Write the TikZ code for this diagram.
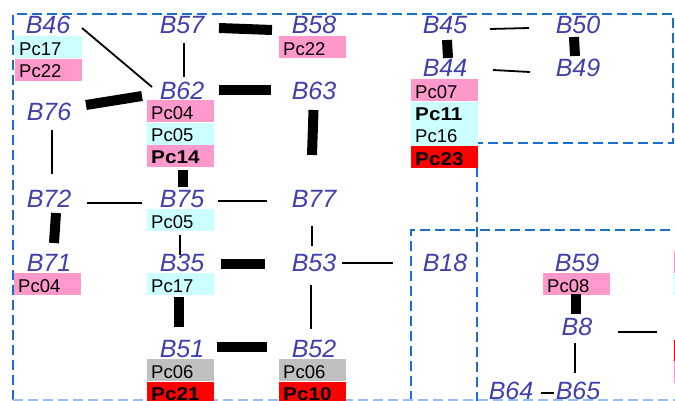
\documentclass[tikz,border=0pt]{standalone}
\usepackage{fontspec}
\setmainfont{Liberation Sans}
\newfontfamily\pcbf{Liberation Sans}[FakeStretch=1.12]
\usetikzlibrary{calc,positioning}
\definecolor{lblblue}{RGB}{64,64,172}
\definecolor{dashblue}{RGB}{25,110,210}
\definecolor{lightdash}{RGB}{150,190,240}
\definecolor{pcpink}{RGB}{255,153,204}
\definecolor{pccyan}{RGB}{204,255,255}
\definecolor{pcred}{RGB}{255,0,0}
\definecolor{pcgray}{RGB}{192,192,192}
\tikzset{
  lbl/.style={font=\fontsize{25}{25}\selectfont\itshape, text=lblblue, inner sep=0pt},
  pc/.style={font=\fontsize{18.5}{18.5}\selectfont, text=black, inner xsep=4pt, inner ysep=2pt,
    text width=59pt, align=left, text height=17pt, text depth=1pt, anchor=north west},
  pcb/.style={pc, font=\fontsize{18.5}{18.5}\selectfont\pcbf\bfseries},
  pinkbox/.style={fill=pcpink},
  cyanbox/.style={fill=pccyan},
  redbox/.style={fill=pcred},
  graybox/.style={fill=pcgray},
  thinline/.style={draw=black, line width=1.8pt},
  barline/.style={draw=black, line width=10pt},
  zone/.style={draw=dashblue, line width=2.8pt, dash pattern=on 10pt off 5pt},
  zonefaint/.style={draw=lightdash, line width=1.8pt, dash pattern=on 10pt off 5pt}
}
\begin{document}
\begin{tikzpicture}[x=1pt,y=-1pt]
\useasboundingbox (0,0) rectangle (675,401);
\fill[white] (0,0) rectangle (675,401);

% zones
\draw[zone] (13,400) -- (13,14) -- (673,14) -- (673,143) -- (477,143) -- (477,401);
\draw[zone] (411,401) -- (411,230) -- (676,230);
\draw[zonefaint] (13,400) -- (675,400);

% labels
\node[lbl] (B46) at (48,25) {B46};
\node[lbl] (B57) at (182,25) {B57};
\node[lbl] (B58) at (314,25) {B58};
\node[lbl] (B45) at (445,25) {B45};
\node[lbl] (B50) at (578,25) {B50};
\node[lbl] (B62) at (182,91) {B62};
\node[lbl] (B63) at (314,91) {B63};
\node[lbl] (B76) at (49,112) {B76};
\node[lbl] (B44) at (445,68) {B44};
\node[lbl] (B49) at (578,68) {B49};
\node[lbl] (B72) at (49,199) {B72};
\node[lbl] (B75) at (182,199) {B75};
\node[lbl] (B77) at (314,199) {B77};
\node[lbl] (B71) at (49,263) {B71};
\node[lbl] (B35) at (182,263) {B35};
\node[lbl] (B53) at (314,263) {B53};
\node[lbl] (B18) at (445,263) {B18};
\node[lbl] (B59) at (577,263) {B59};
\node[lbl] (B51) at (182,349) {B51};
\node[lbl] (B52) at (314,349) {B52};
\node[lbl] (B8) at (577,327) {B8};
\node[lbl] (B64) at (511,391) {B64};
\node[lbl] (B65) at (578,391) {B65};

% Pc boxes
\node[pc, cyanbox] (B46a) at (15,36) {Pc17};
\node[pc, pinkbox] (B46b) at (B46a.south west) {Pc22};

\node[pc, pinkbox] (B62a) at (147,100) {Pc04};
\node[pc, cyanbox] (B62b) at (B62a.south west) {Pc05};
\node[pcb, pinkbox] (B62c) at (B62b.south west) {Pc14};

\node[pc, pinkbox] (B58a) at (279,36) {Pc22};

\node[pc, pinkbox] (B44a) at (411,79) {Pc07};
\node[pcb, cyanbox] (B44b) at (B44a.south west) {Pc11};
\node[pc, cyanbox] (B44c) at (B44b.south west) {Pc16};
\node[pcb, redbox] (B44d) at (B44c.south west) {Pc23};

\node[pc, cyanbox] (B75a) at (147,209) {Pc05};
\node[pc, pinkbox] (B71a) at (14,273) {Pc04};
\node[pc, cyanbox] (B35a) at (147,273) {Pc17};

\node[pc, graybox] (B51a) at (147,359) {Pc06};
\node[pcb, redbox] (B51b) at (B51a.south west) {Pc21};
\node[pc, graybox] (B52a) at (279,359) {Pc06};
\node[pcb, redbox] (B52b) at (B52a.south west) {Pc10};

\node[pc, pinkbox] (B59a) at (543,273) {Pc08};

% slivers of boxes beyond the right edge
\fill[pcpink] (673.8,251) rectangle (676,273);
\fill[pccyan] (673.8,273) rectangle (676,295);
\fill[pcred] (673.8,340) rectangle (676,361);
\fill[pcpink] (673.8,361) rectangle (676,383);

\coordinate (R1) at (657,332);

% connectors
\draw[thinline] ($(B46)+(34,3)$) -- ($(B62)+(-30,-4)$);
\draw[thinline] ($(B57)+(2,18)$) -- ($(B62)+(2,-14)$);
\draw[barline] ($(B57)+(37,3)$) -- ($(B58)+(-42,5)$);
\draw[barline] ($(B62)+(37,-1)$) -- ($(B63)+(-43,-1)$);
\draw[barline] ($(B76)+(37,-7)$) -- ($(B62)+(-40,5)$);
\draw[thinline] ($(B76)+(3,18)$) -- ($(B72)+(3,-25)$);
\draw[barline] ($(B62)+(1,79)$) -- ($(B75)+(1,-12)$);
\draw[barline] ($(B63)+(-0.5,19)$) -- ($(B77)+(-2,-44)$);
\draw[thinline] ($(B72)+(38,4)$) -- ($(B75)+(-40,4)$);
\draw[thinline] ($(B75)+(36,2)$) -- ($(B77)+(-47,2)$);
\draw[barline] ($(B72)+(7,14)$) -- ($(B71)+(5,-20)$);
\draw[thinline] ($(B75)+(-2,36)$) -- ($(B35)+(-2,-8)$);
\draw[barline] ($(B35)+(39,1)$) -- ($(B53)+(-49,1)$);
\draw[barline] ($(B35)+(-3,34)$) -- ($(B51)+(-3,-22)$);
\draw[barline] ($(B51)+(35,-2)$) -- ($(B52)+(-47,-2)$);
\draw[thinline] ($(B77)+(-2,27)$) -- ($(B53)+(-2,-17)$);
\draw[thinline] ($(B53)+(-3,22)$) -- ($(B52)+(-3,-20)$);
\draw[thinline] ($(B53)+(28,0)$) -- ($(B18)+(-52,0)$);
\draw[thinline] ($(B45)+(45,4)$) -- ($(B50)+(-49,3)$);
\draw[thinline] ($(B44)+(48,2)$) -- ($(B49)+(-48,4)$);
\draw[barline] ($(B45)+(2,15)$) -- ($(B44)+(3,-10)$);
\draw[barline] ($(B50)+(-4,12)$) -- ($(B49)+(-3,-12)$);
\draw[barline] ($(B59)+(-1,31)$) -- ($(B8)+(-1,-13)$);
\draw[thinline] ($(B8)+(-2,16)$) -- ($(B65)+(-3,-18)$);
\draw[thinline] ($(B64)+(30,2)$) -- ($(B65)+(-24,2)$);
\draw[thinline] ($(B8)+(41,5)$) -- (R1);
\end{tikzpicture}
\end{document}
